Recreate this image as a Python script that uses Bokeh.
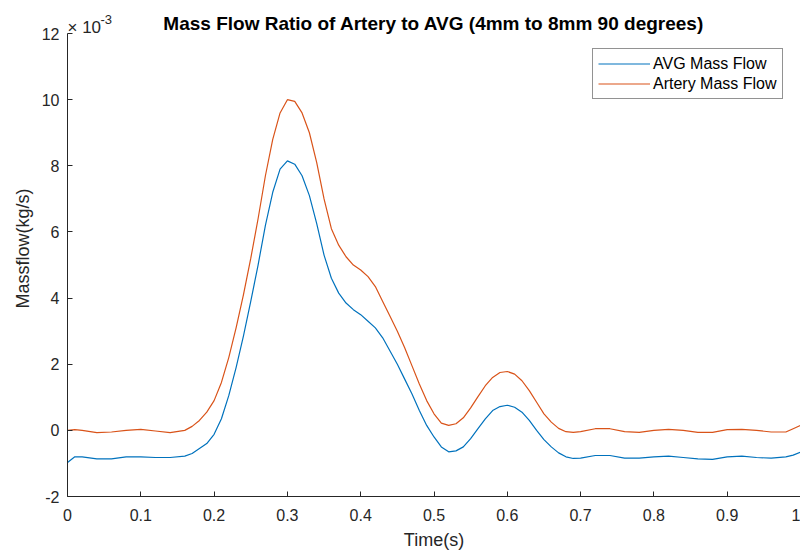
from bokeh.plotting import figure
from bokeh.models import Range1d, Label, Legend, LegendItem, FixedTicker
from bokeh.embed import file_html
from bokeh.resources import INLINE

# time (s)
time_s = [0, 0.01, 0.02, 0.04, 0.06, 0.08, 0.10, 0.12, 0.14, 0.16, 0.17, 0.18, 0.19, 0.20,
          0.21, 0.22, 0.23, 0.24, 0.25, 0.26, 0.27, 0.28, 0.29, 0.30, 0.31, 0.32, 0.33, 0.34,
          0.35, 0.36, 0.37, 0.38, 0.39, 0.40, 0.41, 0.42, 0.43, 0.44, 0.45, 0.46, 0.47, 0.48,
          0.49, 0.50, 0.51, 0.52, 0.53, 0.54, 0.55, 0.56, 0.57, 0.58, 0.59, 0.60, 0.61, 0.62,
          0.63, 0.64, 0.65, 0.66, 0.67, 0.68, 0.69, 0.70, 0.72, 0.74, 0.76, 0.78, 0.80, 0.82,
          0.84, 0.86, 0.88, 0.90, 0.92, 0.94, 0.96, 0.98, 0.99, 1.00]

# mass flow in units of 1e-3 kg/s
avg_flow = [-0.97, -0.80, -0.80, -0.86, -0.86, -0.80, -0.80, -0.82, -0.82, -0.78, -0.70, -0.55,
            -0.40, -0.12, 0.35, 1.05, 1.90, 2.85, 3.90, 5.00, 6.20, 7.20, 7.90, 8.15, 8.05, 7.70,
            7.10, 6.25, 5.30, 4.60, 4.15, 3.85, 3.65, 3.50, 3.30, 3.10, 2.80, 2.40, 2.00, 1.55,
            1.10, 0.60, 0.15, -0.20, -0.50, -0.65, -0.62, -0.50, -0.25, 0.05, 0.35, 0.60, 0.72,
            0.76, 0.70, 0.55, 0.30, 0.00, -0.28, -0.50, -0.68, -0.80, -0.85, -0.84, -0.76, -0.76,
            -0.84, -0.84, -0.80, -0.78, -0.82, -0.86, -0.88, -0.80, -0.78, -0.82, -0.84, -0.80,
            -0.75, -0.66]

artery_flow = [0.00, 0.02, 0.00, -0.07, -0.05, 0.00, 0.03, -0.02, -0.07, 0.00, 0.12, 0.30,
               0.55, 0.90, 1.45, 2.20, 3.10, 4.10, 5.20, 6.40, 7.70, 8.80, 9.60, 10.00, 9.95,
               9.60, 9.00, 8.10, 7.00, 6.10, 5.60, 5.25, 5.00, 4.85, 4.65, 4.35, 3.90, 3.45,
               3.00, 2.50, 1.95, 1.40, 0.90, 0.50, 0.22, 0.15, 0.20, 0.38, 0.68, 1.02, 1.35,
               1.60, 1.75, 1.78, 1.70, 1.50, 1.20, 0.85, 0.50, 0.25, 0.06, -0.04, -0.06, -0.04,
               0.05, 0.05, -0.04, -0.06, 0.00, 0.03, 0.00, -0.06, -0.06, 0.02, 0.03, 0.00,
               -0.05, -0.05, 0.05, 0.15]

x_ticks = [0, 0.1, 0.2, 0.3, 0.4, 0.5, 0.6, 0.7, 0.8, 0.9, 1]
y_ticks = [-2, 0, 2, 4, 6, 8, 10, 12]
series_names = ["AVG Mass Flow", "Artery Mass Flow"]
title_text = "Mass Flow Ratio of Artery to AVG (4mm to 8mm 90 degrees)"
exponent_base = "\u00d7 10"
exponent_power = "-3"

FONT = "Liberation Sans"
DARK = "#262626"

# the frame extends a little above the y axis (which is bounded to -2..12) so that
# the title and the exponent note can be drawn as labels there
p = figure(width=800, height=557, output_backend="svg", toolbar_location=None,
           x_range=Range1d(0, 1), y_range=Range1d(-2, 13),
           min_border_left=67, min_border_right=0, min_border_bottom=61, min_border_top=0)
p.outline_line_color = None
p.xgrid.visible = False
p.ygrid.visible = False

for ax in (p.xaxis[0], p.yaxis[0]):
    ax.axis_line_color = DARK
    ax.major_tick_line_color = DARK
    ax.major_tick_in = 5
    ax.major_tick_out = 0
    ax.minor_tick_line_color = None
    ax.major_label_text_font = FONT
    ax.major_label_text_font_size = "16px"
    ax.major_label_text_color = DARK
    ax.axis_label_text_font = FONT
    ax.axis_label_text_font_size = "18px"
    ax.axis_label_text_font_style = "normal"
    ax.axis_label_text_color = DARK

p.yaxis.bounds = (-2, 12)
p.xaxis.ticker = FixedTicker(ticks=x_ticks)
p.yaxis.ticker = FixedTicker(ticks=y_ticks)
p.xaxis.major_label_overrides = {t: f"{t:g}" for t in x_ticks}
p.yaxis.major_label_overrides = {t: str(t) for t in y_ticks}
p.xaxis.major_label_standoff = 12
p.yaxis.major_label_standoff = 8
p.xaxis.axis_label = "Time(s)"
p.yaxis.axis_label = "Massflow(kg/s)"
p.xaxis.axis_label_standoff = 6
p.yaxis.axis_label_standoff = 6

r1 = p.line(time_s, avg_flow, line_color="#0072BD", line_width=1.2)
r2 = p.line(time_s, artery_flow, line_color="#D95319", line_width=1.2)

p.add_layout(Label(x=0.5, y=12.30, text=title_text, text_align="center",
                   text_baseline="alphabetic", text_font=FONT, text_font_size="19px",
                   text_font_style="bold", text_color="#000000"))
p.add_layout(Label(x=0, y=12.18, x_offset=0, text=exponent_base, text_align="left",
                   text_baseline="alphabetic", text_font=FONT, text_font_size="17px",
                   text_color=DARK))
p.add_layout(Label(x=0, y=12.18, x_offset=33, y_offset=8, text=exponent_power,
                   text_align="left", text_baseline="alphabetic", text_font=FONT,
                   text_font_size="13px", text_color=DARK))

legend = Legend(items=[LegendItem(label=series_names[0], renderers=[r1]),
                       LegendItem(label=series_names[1], renderers=[r2])],
                location=(525, 397))
legend.label_text_font = FONT
legend.label_text_font_size = "16px"
legend.label_text_color = "#000000"
legend.glyph_width = 52
legend.glyph_height = 19
legend.spacing = 1
legend.padding = 5
legend.margin = 0
legend.label_standoff = 3
legend.border_line_color = DARK
legend.border_line_width = 1
legend.background_fill_color = "white"
p.add_layout(legend, "center")

open("out.html", "w").write(file_html(p, INLINE))
